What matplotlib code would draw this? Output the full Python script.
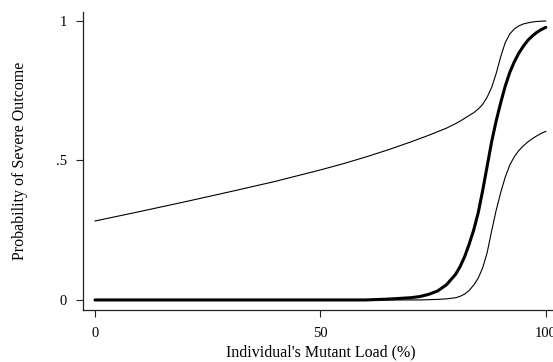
import numpy as np
import matplotlib
matplotlib.use('Agg')
import matplotlib.pyplot as plt

# mutant load (%) and curves
load = [0, 10, 20, 30, 40, 50, 55, 60, 65, 70, 72, 74, 76, 78, 80, 81, 82, 83, 84,
        85, 86, 87, 88, 89, 90, 91, 92, 93, 94, 95, 96, 97, 98, 99, 100]

upper = [0.283, 0.317, 0.352, 0.388, 0.425, 0.466, 0.488, 0.512, 0.538, 0.566, 0.578,
         0.590, 0.603, 0.616, 0.632, 0.641, 0.651, 0.661, 0.671, 0.684, 0.701, 0.727,
         0.762, 0.812, 0.872, 0.922, 0.953, 0.971, 0.982, 0.989, 0.993, 0.996, 0.998,
         0.999, 1.0]

fitted = [0.0, 0.0, 0.0, 0.0, 0.0, 0.0, 0.0, 0.0, 0.003, 0.008, 0.012, 0.020, 0.032,
          0.055, 0.092, 0.120, 0.155, 0.200, 0.250, 0.312, 0.392, 0.480, 0.568, 0.642,
          0.707, 0.766, 0.815, 0.853, 0.884, 0.909, 0.930, 0.946, 0.959, 0.969, 0.977]

lower = [0.0, 0.0, 0.0, 0.0, 0.0, 0.0, 0.0, 0.0, 0.0, 0.0, 0.0, 0.001, 0.002, 0.004,
         0.008, 0.013, 0.021, 0.034, 0.053, 0.078, 0.115, 0.170, 0.248, 0.322, 0.385,
         0.440, 0.483, 0.513, 0.535, 0.552, 0.566, 0.578, 0.588, 0.597, 0.604]

xticks = [0, 50, 100]
yticks = [0, 0.5, 1]
yticklabels = ['0', '.5', '1']

plt.rcParams['font.family'] = ['Liberation Serif', 'DejaVu Serif']

fig = plt.figure(figsize=(5.53, 3.62), dpi=100)
ax = fig.add_axes([83/553, 52/362, 470/553, 298/362])

ax.plot(load, upper, color='black', linewidth=0.8)
ax.plot(load, lower, color='black', linewidth=0.8)
ax.plot(load, fitted, color='black', linewidth=2.2, solid_capstyle='round')

ax.set_xlim(-2.66, 101.6)
ax.set_ylim(-0.036, 1.032)

ax.spines['top'].set_visible(False)
ax.spines['right'].set_visible(False)
for s in ['left', 'bottom']:
    ax.spines[s].set_color('#222222')
    ax.spines[s].set_linewidth(0.9)

ax.set_xticks(xticks)
ax.set_yticks(yticks)
ax.set_yticklabels(yticklabels)
ax.tick_params(axis='both', length=5, width=0.8, color='#222222', labelsize=10.5)
ax.tick_params(axis='x', pad=7)
ax.tick_params(axis='y', pad=6.5)

ax.set_xlabel("Individual's Mutant Load (%)", fontsize=11.5, va='center')
ax.set_ylabel("Probability of Severe Outcome", fontsize=11.5, va='center')
ax.xaxis.set_label_coords(0.505, -0.142)
ax.yaxis.set_label_coords(-0.134, 0.5)

plt.savefig('out.png', dpi=100)
plt.close()
